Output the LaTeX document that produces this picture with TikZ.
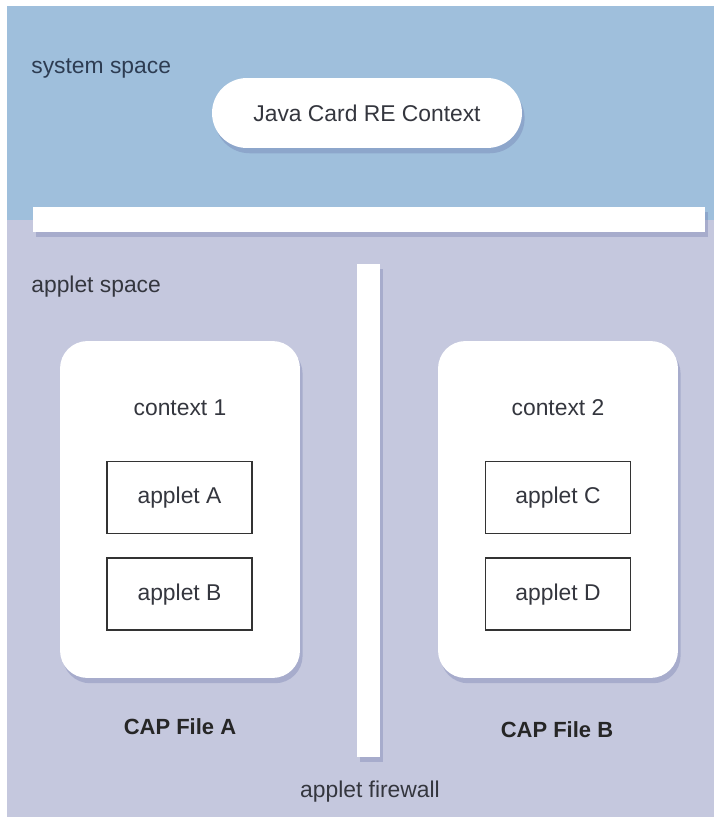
\documentclass[tikz,border=0pt]{standalone}
\usepackage{fontspec}
\setmainfont{Liberation Sans}
\usetikzlibrary{positioning,shadows}

\definecolor{sysblue}{RGB}{159,191,220}
\definecolor{appletlav}{RGB}{197,200,222}
\definecolor{txtgray}{RGB}{52,54,62}
\definecolor{slatetxt}{RGB}{45,60,82}
\definecolor{shadowblue}{RGB}{100,110,165}

\begin{document}
\begin{tikzpicture}[
            x=0.02cm, y=-0.02cm,              % pixel grid of the sketch
            every node/.style={
                font=\fontsize{13}{15}\selectfont,
                text=txtgray,
                inner sep=0pt
            },
            softshadow/.style={drop shadow={shadow xshift=1.5pt, shadow yshift=-3pt,
                opacity=0.3, fill=shadowblue}},
            pill/.style={fill=white, rounded corners=0.7cm, softshadow,
                minimum width=6.2cm, minimum height=1.4cm},
            ctxbox/.style={fill=white, rounded corners=0.55cm, softshadow,
                minimum width=4.8cm, minimum height=6.74cm},
            appletbox/.style={draw=black!80, line width=1.1pt, fill=white,
                minimum width=2.9cm, minimum height=1.44cm},
            bar/.style={fill=white, softshadow},
            capfile/.style={font=\fontsize{12.5}{15}\selectfont\bfseries, text=black!85}
        ]
            \useasboundingbox (0,0) rectangle (719,817);
            % Bereiche
            \fill[sysblue] (7,6) rectangle (714,220);
            \fill[appletlav] (7,220) rectangle (714,817);

            % Systembereich
            \node[anchor=west, text=slatetxt] (syslbl) at (31,68) {system space};
            \node[pill] (jcre) at (367,113) {Java Card RE Context};
            \node[bar, minimum width=13.44cm, minimum height=0.5cm] (sysbar) at (369,219.5) {};

            % Appletbereich
            \node[anchor=west] (appletlbl) at (31,287) {applet space};
            \node[bar, minimum width=0.46cm, minimum height=9.86cm] (firewall) at (368.5,510.5) {};
            \node (fwlbl) at (370,792) {applet firewall};

            % Kontext 1
            \node[ctxbox] (ctx1) at (180,509.5) {};
            \node (ctx1lbl) at (180,408) {context 1};
            \node[appletbox] (appA) at (179.5,497.5) {applet A};
            \node[appletbox] (appB) [below=0.46cm of appA] {applet B};
            \node[capfile] (capA) at (180,727) {CAP File A};

            % Kontext 2
            \node[ctxbox] (ctx2) at (558,509.5) {};
            \node (ctx2lbl) at (558,408) {context 2};
            \node[appletbox] (appC) at (558,497.5) {applet C};
            \node[appletbox] (appD) [below=0.46cm of appC] {applet D};
            \node[capfile] (capB) at (557,730) {CAP File B};
        \end{tikzpicture}
\end{document}
